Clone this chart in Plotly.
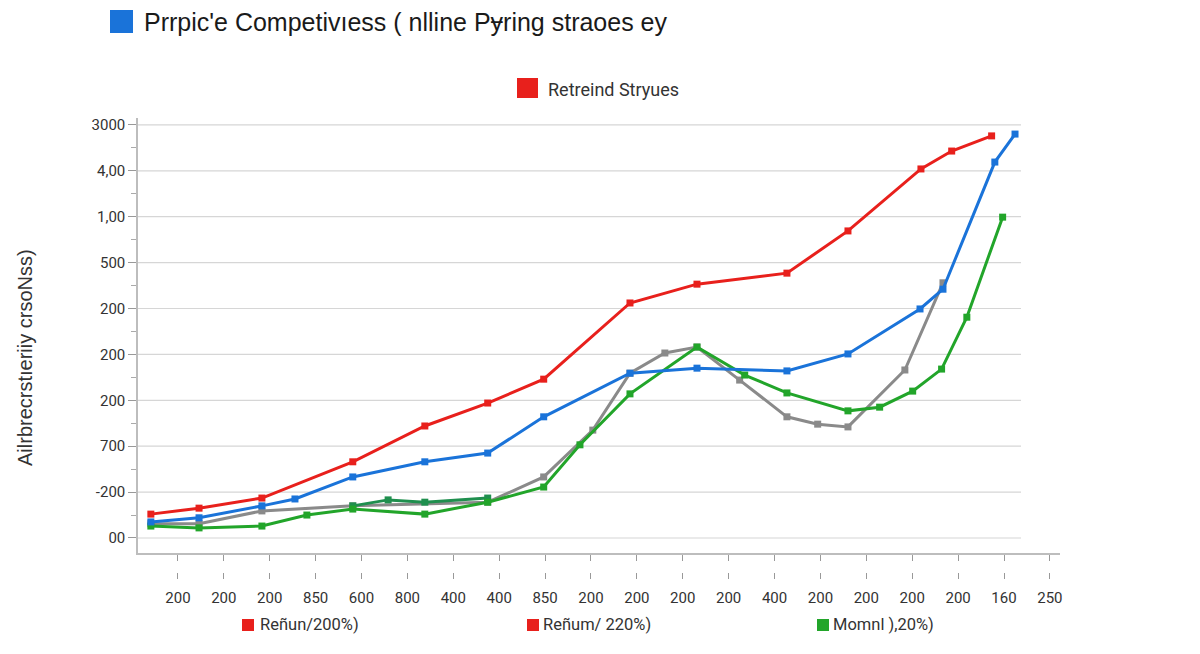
import plotly.graph_objects as go

# --- chart data ---
x_labels = ["200", "200", "200", "850", "600", "800", "400", "400", "850", "200",
            "200", "200", "200", "400", "200", "200", "200", "200", "160", "250"]
y_labels = ["00", "-200", "700", "200", "200", "200", "500", "1,00", "4,00", "3000"]

red_x = [-0.59, 0.46, 1.83, 3.81, 5.38, 6.75, 7.97, 9.85, 11.31, 13.27, 14.60, 16.19, 16.86, 17.73]
red_y = [0.52, 0.65, 0.87, 1.66, 2.44, 2.94, 3.46, 5.12, 5.53, 5.77, 6.69, 8.04, 8.43, 8.76]

blue_x = [-0.59, 0.46, 1.83, 2.55, 3.81, 5.38, 6.75, 7.97, 9.85, 11.31, 13.27, 14.60, 16.17, 16.67, 17.80, 18.24]
blue_y = [0.35, 0.44, 0.70, 0.85, 1.33, 1.66, 1.85, 2.64, 3.59, 3.70, 3.64, 4.01, 4.99, 5.42, 8.19, 8.80]

gray_x = [-0.59, 0.46, 1.83, 3.81, 6.75, 7.97, 9.04, 9.85, 10.61, 11.31, 12.24, 13.27, 13.94, 14.60, 15.84, 16.67]
gray_y = [0.31, 0.31, 0.59, 0.70, 0.78, 1.33, 2.35, 3.59, 4.03, 4.16, 3.44, 2.64, 2.48, 2.42, 3.66, 5.56]

dkgreen_x = [3.81, 4.58, 5.38, 6.75]
dkgreen_y = [0.70, 0.83, 0.78, 0.87]

green_x = [-0.59, 0.46, 1.83, 2.81, 3.81, 5.38, 6.75, 7.97, 8.76, 9.85, 11.31, 12.35, 13.27, 14.60, 15.29, 16.01, 16.64, 17.19, 17.97]
green_y = [0.26, 0.22, 0.26, 0.50, 0.63, 0.52, 0.78, 1.11, 2.03, 3.14, 4.16, 3.55, 3.16, 2.77, 2.85, 3.20, 3.68, 4.81, 6.99]

# --- page geometry helpers (pixels -> paper coords) ---
W, H = 1200, 654
ML, MR, MT, MB = 138, 140, 118, 60
PW, PH = W - ML - MR, H - MT - MB


def px(x):
    return (x - ML) / PW


def py(y):
    return (H - MB - y) / PH


tick_pos = list(range(len(x_labels)))
y_pos = list(range(len(y_labels)))
x_range = [-0.87, 19.22]
y_range = [-0.327, 9.15]

fig = go.Figure()


def add_line(xs, ys, color, name, width=3):
    fig.add_trace(go.Scatter(
        x=xs, y=ys, mode="lines+markers", name=name,
        line=dict(color=color, width=width),
        marker=dict(symbol="square", size=7, color=color),
        showlegend=False,
    ))


add_line(gray_x, gray_y, "#8a8a8a", "gray")
add_line(dkgreen_x, dkgreen_y, "#1f8f4e", "dkgreen")
add_line(green_x, green_y, "#22a52a", "green")
add_line(blue_x, blue_y, "#1a73d9", "blue")
add_line(red_x, red_y, "#e8201c", "red")

# second row of x ticks carries the labels
fig.add_trace(go.Scatter(x=[x_range[0]], y=[y_range[0]], xaxis="x2", mode="markers",
                         marker=dict(opacity=0), showlegend=False, hoverinfo="skip"))

shapes = []
# horizontal gridlines stop short of the axis end
for v in y_pos:
    shapes.append(dict(type="line", xref="paper", yref="y", x0=0, x1=px(1021), y0=v, y1=v,
                       line=dict(color="#d6d6d6", width=1.2), layer="below"))
# title marker & legend-like swatches
shapes.append(dict(type="rect", xref="paper", yref="paper", x0=px(110), x1=px(133), y0=py(33), y1=py(10),
                   fillcolor="#1a73d9", line=dict(width=0)))
shapes.append(dict(type="rect", xref="paper", yref="paper", x0=px(517), x1=px(538), y0=py(98), y1=py(78),
                   fillcolor="#e8201c", line=dict(width=0)))
for x0, col in [(242, "#e8201c"), (527, "#e8201c"), (817, "#22a52a")]:
    shapes.append(dict(type="rect", xref="paper", yref="paper", x0=px(x0), x1=px(x0 + 12), y0=py(631), y1=py(619),
                       fillcolor=col, line=dict(width=0)))

annotations = [
    dict(text="Prrpic'e Competivıess ( nlline Pɏring straoes ey", x=px(142), y=py(22), xref="paper", yref="paper",
         xanchor="left", yanchor="middle", showarrow=False,
         font=dict(family="Liberation Sans, Arial", size=25, color="#1a1a1a")),
    dict(text="Retreind Stryues", x=px(546), y=py(89), xref="paper", yref="paper",
         xanchor="left", yanchor="middle", showarrow=False,
         font=dict(family="Roboto", size=18, color="#333333")),
    dict(text="Ailrbrecrstıeriiy crsoNss)", x=px(25), y=py(358), xref="paper", yref="paper",
         textangle=-90, xanchor="center", yanchor="middle", showarrow=False,
         font=dict(family="Liberation Sans, Arial", size=20, color="#333333")),
]
for x0, label in [(258, "Reñun/200%)"), (541, "Reñum/ 220%)"), (831, "Momnl ),20%)")]:
    annotations.append(dict(text=label, x=px(x0), y=py(624), xref="paper", yref="paper",
                            xanchor="left", yanchor="middle", showarrow=False,
                            font=dict(family="Roboto", size=16.5, color="#333333")))

fig.update_layout(
    width=W, height=H,
    margin=dict(l=ML, r=MR, t=MT, b=MB),
    plot_bgcolor="white", paper_bgcolor="white",
    font=dict(family="Roboto", size=14, color="#333333"),
    xaxis=dict(range=x_range, tickvals=tick_pos, showticklabels=False, showgrid=False, zeroline=False,
               showline=True, linecolor="#bdbdbd", linewidth=1.5,
               ticks="outside", ticklen=6, tickcolor="#999999", anchor="y"),
    xaxis2=dict(range=x_range, tickvals=tick_pos, ticktext=x_labels, overlaying="x", side="bottom",
                anchor="free", position=py(572), showgrid=False, zeroline=False, showline=False,
                ticks="outside", ticklen=6, tickcolor="#999999", ticklabelstandoff=6,
                tickfont=dict(family="Roboto", size=15, color="#333333")),
    yaxis=dict(range=y_range, domain=[py(553), 1], tickvals=y_pos, ticktext=y_labels,
               showgrid=False, zeroline=False, showline=True, linecolor="#bdbdbd", linewidth=1.5,
               ticks="outside", ticklen=8, tickcolor="#999999",
               minor=dict(ticks="outside", ticklen=5, tickcolor="#aaaaaa", dtick=0.5, tick0=0.5),
               tickfont=dict(family="Roboto", size=15, color="#333333")),
    shapes=shapes,
    annotations=annotations,
)

# drop the browser's default body margin so the figure sits at the page corner
fig.write_html("out.html", config={"displayModeBar": False},
               post_script="document.body.style.margin='0';")
